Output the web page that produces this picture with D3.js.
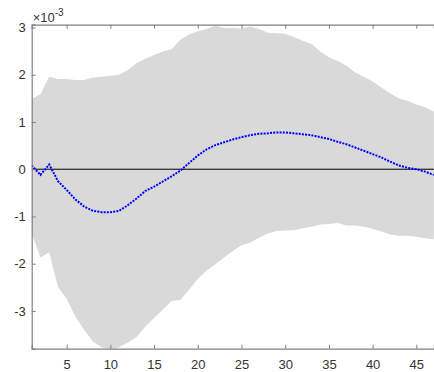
<!DOCTYPE html>
<html lang="en">
  <head>
    <meta charset="UTF-8" />
    <title>Impulse response with band</title>
    <!-- Load d3.js -->
    <script src="https://d3js.org/d3.v7.min.js"></script>
    <style>
      html,
      body {
        margin: 0;
        padding: 0;
        background: #ffffff;
      }
      .tick text {
        font-family: "Liberation Sans", Arial, sans-serif;
        font-size: 13px;
        fill: #333333;
      }
    </style>
  </head>
  <body>
    <div id="viz"></div>

    <script>
      // horizons (x axis)
      const horizon = [
        1, 2, 3, 4, 5, 6, 7, 8, 9, 10, 11, 12, 13, 14, 15, 16, 17, 18, 19, 20,
        21, 22, 23, 24, 25, 26, 27, 28, 29, 30, 31, 32, 33, 34, 35, 36, 37, 38,
        39, 40, 41, 42, 43, 44, 45, 46, 47,
      ];

      // median response (x 10^-3)
      const response = [
        0.08, -0.12, 0.1, -0.25, -0.44, -0.64, -0.79, -0.88, -0.91, -0.91,
        -0.88, -0.76, -0.62, -0.46, -0.37, -0.26, -0.15, -0.03, 0.13, 0.29,
        0.42, 0.51, 0.57, 0.63, 0.68, 0.72, 0.75, 0.76, 0.78, 0.78, 0.76, 0.74,
        0.72, 0.68, 0.64, 0.58, 0.53, 0.46, 0.39, 0.32, 0.25, 0.16, 0.08, 0.03,
        0.0, -0.05, -0.12,
      ];

      // upper / lower band (x 10^-3)
      const upper = [
        1.49, 1.59, 1.96, 1.91, 1.91, 1.89, 1.89, 1.94, 1.96, 1.98, 2.0, 2.1,
        2.25, 2.34, 2.42, 2.49, 2.54, 2.74, 2.85, 2.92, 2.97, 3.04, 2.99, 2.99,
        2.98, 3.02, 2.97, 2.89, 2.88, 2.87, 2.8, 2.72, 2.65, 2.49, 2.37, 2.29,
        2.19, 2.05, 1.96, 1.86, 1.73, 1.61, 1.5, 1.45, 1.37, 1.31, 1.22,
      ];
      const lower = [
        -1.36, -1.87, -1.76, -2.49, -2.75, -3.12, -3.4, -3.65, -3.77, -3.82,
        -3.77, -3.67, -3.55, -3.33, -3.15, -2.97, -2.79, -2.77, -2.55, -2.32,
        -2.15, -2.01, -1.87, -1.73, -1.61, -1.55, -1.45, -1.36, -1.31, -1.3,
        -1.29, -1.25, -1.22, -1.17, -1.16, -1.14, -1.19, -1.19, -1.22, -1.26,
        -1.32, -1.38, -1.41, -1.41, -1.43, -1.46, -1.48,
      ];

      const xTicks = [5, 10, 15, 20, 25, 30, 35, 40, 45];
      const yTicks = [-3, -2, -1, 0, 1, 2, 3];

      const width = 434;
      const height = 372;
      const plotLeft = 31.7,
        plotRight = 433.8,
        plotTop = 24.7,
        plotBottom = 348.7;

      const data = horizon.map((h, i) => ({
        h: h,
        mid: response[i],
        hi: upper[i],
        lo: lower[i],
      }));

      const svg = d3
        .select("#viz")
        .append("svg")
        .attr("width", width)
        .attr("height", height);

      const xScale = d3.scaleLinear().domain([1, 47]).range([plotLeft, plotRight]);
      const yScale = d3
        .scaleLinear()
        .domain([-3.8, 3.06])
        .range([plotBottom, plotTop]);

      svg
        .append("clipPath")
        .attr("id", "plotclip")
        .append("rect")
        .attr("x", plotLeft)
        .attr("y", plotTop)
        .attr("width", plotRight - plotLeft + 2)
        .attr("height", plotBottom - plotTop);

      const plot = svg.append("g").attr("clip-path", "url(#plotclip)");

      // shaded band
      const band = d3
        .area()
        .x((d) => xScale(d.h))
        .y0((d) => yScale(d.lo))
        .y1((d) => yScale(d.hi));

      plot
        .append("path")
        .datum(data)
        .attr("d", band)
        .attr("fill", "#d9d9d9")
        .attr("stroke", "none");

      // zero line
      plot
        .append("line")
        .attr("x1", plotLeft)
        .attr("x2", width)
        .attr("y1", yScale(0))
        .attr("y2", yScale(0))
        .attr("stroke", "#000000")
        .attr("stroke-width", 1);

      // median response, dotted blue
      const line = d3
        .line()
        .x((d) => xScale(d.h))
        .y((d) => yScale(d.mid));

      plot
        .append("path")
        .datum(data)
        .attr("d", line)
        .attr("fill", "none")
        .attr("stroke", "#0000ff")
        .attr("stroke-width", 2)
        .attr("stroke-dasharray", "2,1.2");

      // axes, ticks pointing inward
      const axisColor = "#808080";
      const plainNum = (d) => String(d);

      const xAxis = svg
        .append("g")
        .attr("transform", `translate(0,${plotBottom})`)
        .call(
          d3
            .axisBottom(xScale)
            .tickValues(xTicks)
            .tickFormat(plainNum)
            .tickSize(-4)
            .tickPadding(11)
        );

      const xTop = svg
        .append("g")
        .attr("transform", `translate(0,${plotTop})`)
        .call(d3.axisTop(xScale).tickValues(xTicks).tickSize(-4).tickFormat(""));

      const yAxis = svg
        .append("g")
        .attr("transform", `translate(${plotLeft},0)`)
        .call(
          d3
            .axisLeft(yScale)
            .tickValues(yTicks)
            .tickFormat(plainNum)
            .tickSize(-4)
            .tickPadding(6)
        );

      [xAxis, xTop, yAxis].forEach((g) => {
        g.select(".domain").attr("stroke", axisColor).attr("stroke-width", 1.2);
        g.selectAll(".tick line").attr("stroke", axisColor);
      });

      // exponent label
      const expo = svg
        .append("text")
        .attr("x", plotLeft + 1)
        .attr("y", 22)
        .style("font-family", "Liberation Sans, Arial, sans-serif")
        .style("font-size", "13px")
        .style("fill", "#333333");
      expo.append("tspan").text("\u00d710");
      expo
        .append("tspan")
        .attr("dy", -6)
        .style("font-size", "10px")
        .text("-3");
    </script>
  </body>
</html>
